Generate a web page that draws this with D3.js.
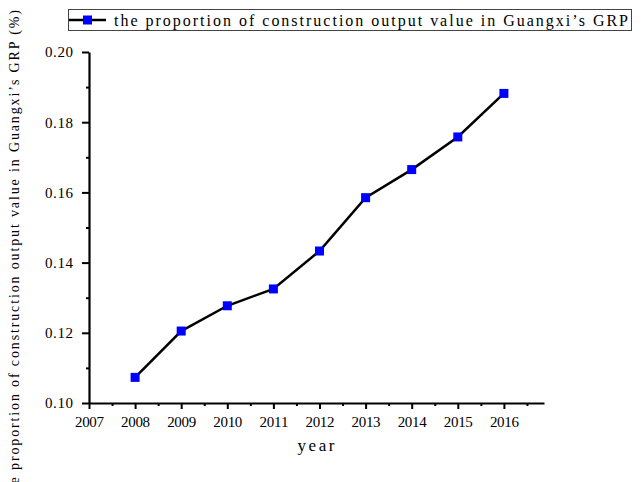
<!DOCTYPE html>
<html>
<head>
<meta charset="utf-8">
<script src="https://cdn.jsdelivr.net/npm/d3@7"></script>
<style>
  body { margin: 0; background: #fff; }
  text { font-family: "Liberation Serif", "DejaVu Serif", serif; fill: #000; }
</style>
</head>
<body>
<div id="chart"></div>
<script>
// datos
const years = [2008, 2009, 2010, 2011, 2012, 2013, 2014, 2015, 2016];
const proportion = [0.1073, 0.1205, 0.1277, 0.1325, 0.1433, 0.1585, 0.1665, 0.1758, 0.1882];
const xTicks = [2007, 2008, 2009, 2010, 2011, 2012, 2013, 2014, 2015, 2016];
const yTicks = [0.10, 0.12, 0.14, 0.16, 0.18, 0.20];
const seriesName = "the proportion of construction output value in Guangxi\u2019s GRP";
const yTitle = "the proportion of construction output value in Guangxi\u2019s GRP (%)";
const xTitle = "year";

const WIDTH = 642;
const HEIGHT = 482;

const svg = d3.select("#chart")
  .append("svg")
  .attr("width", WIDTH)
  .attr("height", HEIGHT);

// escalas
const x = d3.scaleLinear().domain([2007, 2016.87]).range([89, 544]);
const y = d3.scaleLinear().domain([0.10, 0.20]).range([403, 52]);

// eje X
const xaxis = svg.append("g")
  .attr("transform", `translate(0, ${y(0.10)})`);

xaxis.call(d3.axisBottom(x).tickValues(xTicks).tickFormat(d3.format("d")).tickSize(6).tickSizeOuter(0));
// ticks menores
svg.append("g")
  .attr("transform", `translate(0, ${y(0.10)})`)
  .call(d3.axisBottom(x).tickValues(d3.range(2007.5, 2016.6, 1)).tickFormat("").tickSize(3).tickSizeOuter(0))
  .call(g => g.select(".domain").remove())
  .selectAll("line").attr("stroke-width", 2);

xaxis.select(".domain").attr("stroke-width", 2.2);
xaxis.selectAll(".tick line").attr("stroke-width", 2);
xaxis.selectAll(".tick text")
  .attr("font-size", "15px")
  .attr("font-family", "Liberation Serif")
  .attr("textLength", 29)
  .attr("y", 13)
  .attr("dy", "0.71em");

// eje Y
const yaxis = svg.append("g")
  .attr("transform", `translate(${x(2007)}, 0)`);

yaxis.call(d3.axisLeft(y).tickValues(yTicks).tickFormat(d3.format(".2f")).tickSize(7).tickSizeOuter(0));
svg.append("g")
  .attr("transform", `translate(${x(2007)}, 0)`)
  .call(d3.axisLeft(y).tickValues([0.11, 0.13, 0.15, 0.17, 0.19]).tickFormat("").tickSize(3).tickSizeOuter(0))
  .call(g => g.select(".domain").remove())
  .selectAll("line").attr("stroke-width", 2);

yaxis.select(".domain").attr("stroke-width", 2.2);
yaxis.selectAll(".tick line").attr("stroke-width", 2);
yaxis.selectAll(".tick text")
  .attr("font-size", "15px")
  .attr("font-family", "Liberation Serif")
  .attr("textLength", 28)
  .attr("x", -16);

// titulos
svg.append("text")
  .attr("x", 316)
  .attr("y", 451)
  .attr("text-anchor", "middle")
  .attr("font-size", "17px")
  .attr("textLength", 37)
  .text(xTitle);

svg.append("text")
  .attr("transform", "translate(19, 10) rotate(-90)")
  .attr("text-anchor", "end")
  .attr("font-size", "14px")
  .attr("textLength", 488)
  .text(yTitle);

// linea
const line = d3.line()
  .x((d, i) => x(years[i]))
  .y(d => y(d));

svg.append("path")
  .datum(proportion)
  .attr("fill", "none")
  .attr("stroke", "#000")
  .attr("stroke-width", 2.5)
  .attr("d", line);

// marcadores
svg.append("g")
  .selectAll("rect")
  .data(proportion)
  .join("rect")
  .attr("x", (d, i) => x(years[i]) - 4.5)
  .attr("y", d => y(d) - 4.5)
  .attr("width", 9)
  .attr("height", 9)
  .attr("fill", "#0000ff");

// leyenda
const legend = svg.append("g");
legend.append("rect")
  .attr("x", 68.5)
  .attr("y", 9.5)
  .attr("width", 563)
  .attr("height", 21)
  .attr("fill", "none")
  .attr("stroke", "#444")
  .attr("stroke-width", 1);
legend.append("line")
  .attr("x1", 69).attr("x2", 106)
  .attr("y1", 20).attr("y2", 20)
  .attr("stroke", "#000")
  .attr("stroke-width", 2.5);
legend.append("rect")
  .attr("x", 83).attr("y", 15.5)
  .attr("width", 9).attr("height", 9)
  .attr("fill", "#0000ff");
legend.append("text")
  .attr("x", 114)
  .attr("y", 25.5)
  .attr("font-size", "16px")
  .attr("textLength", 514)
  .text(seriesName);
</script>
</body>
</html>
